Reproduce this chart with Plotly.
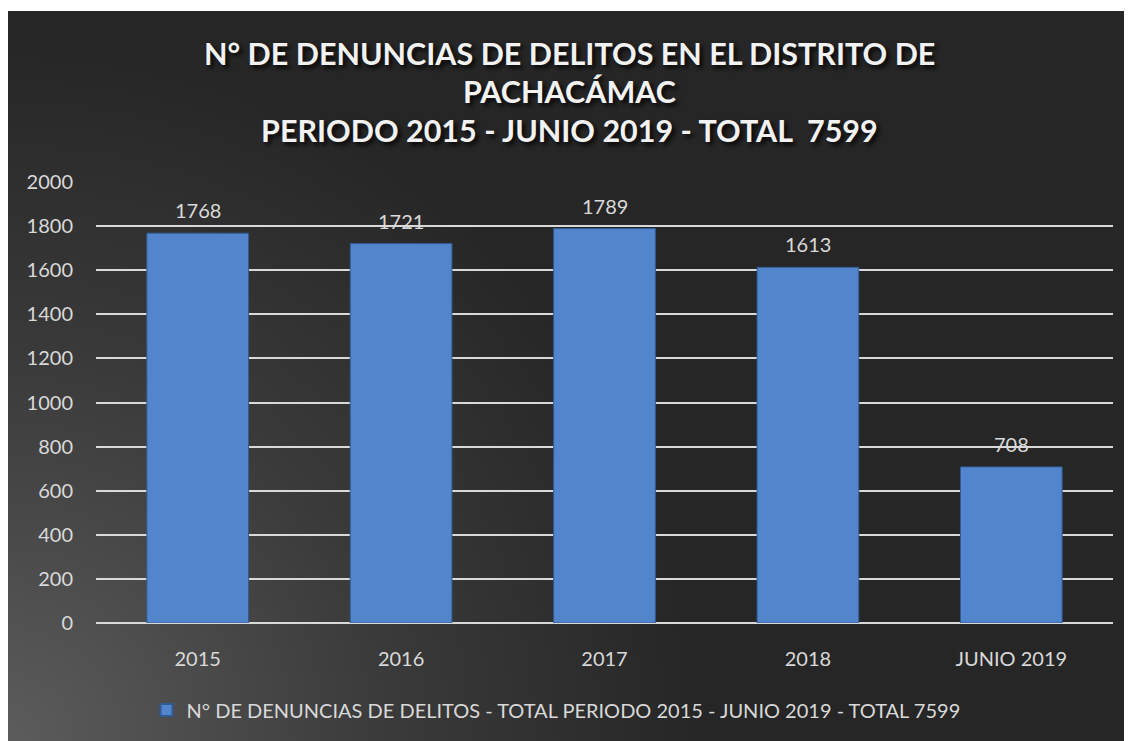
import plotly.graph_objects as go

# ---------------- data ----------------
categories = ["2015", "2016", "2017", "2018", "JUNIO 2019"]
values = [1768, 1721, 1789, 1613, 708]
series_name = "N° DE DENUNCIAS DE DELITOS - TOTAL PERIODO 2015 - JUNIO 2019 - TOTAL 7599"
title_lines = [
    "N° DE DENUNCIAS DE DELITOS EN EL DISTRITO DE",
    "PACHACÁMAC",
    "PERIODO 2015 - JUNIO 2019 - TOTAL  7599",
]
y_tick_values = [0, 200, 400, 600, 800, 1000, 1200, 1400, 1600, 1800, 2000]

# ---------------- layout constants ----------------
OFF = 8                              # page body margin in the browser
W, H = 1132 - OFF, 741 - OFF         # figure size so it fits the window
FONT = "Lato"
TXT = "#d9d9d9"
# positions below are screen pixels of the target picture
panel_x0, panel_y0 = 7, 11
plot_x0, plot_x1 = 96, 1113
plot_ytop, plot_ybot = 182, 623


def px_x(v):
    return max(0.0, (v - OFF) / W)


def px_y(v):
    return min(1.0, 1 - (v - OFF) / H)


fig = go.Figure()

# background gradient panel (radial glow from bottom-left)
fig.add_trace(go.Scatter(
    x=[-0.62, 0.62, 0.62, -0.62, -0.62],
    y=[-0.96, -0.96, 0.96, 0.96, -0.96],
    mode="lines", line=dict(width=0), fill="toself",
    fillgradient=dict(type="radial",
                      colorscale=[[0, "#5c5c5c"], [0.55, "#3a3a3a"], [1, "#262626"]]),
    hoverinfo="skip", showlegend=False, xaxis="x", yaxis="y",
))

# bars
fig.add_trace(go.Bar(
    x=categories, y=values, name=series_name,
    marker=dict(color="#5285cb", line=dict(color="#2f5b94", width=1)),
    xaxis="x2", yaxis="y2", showlegend=True,
))

annotations = []
ty = [53, 91.5, 130]
for line, yy in zip(title_lines, ty):
    annotations.append(dict(
        text=f"<b>{line}</b>", x=px_x((panel_x0 + 1132) / 2), y=px_y(yy),
        xref="paper", yref="paper", xanchor="center", yanchor="middle",
        showarrow=False,
        font=dict(family=FONT, size=30.5, color="#f2f2f2",
                  shadow="3px 3px 4px rgba(0,0,0,0.85)"),
    ))
# data labels (category index positions)
for i, v in enumerate(values):
    annotations.append(dict(
        text=str(v), x=i, y=v, xref="x2", yref="y2",
        xanchor="center", yanchor="bottom", yshift=9, showarrow=False,
        font=dict(family=FONT, size=20, color=TXT),
    ))

fig.update_layout(
    width=W, height=H,
    margin=dict(l=0, r=0, t=0, b=0, pad=0, autoexpand=False),
    paper_bgcolor="white",
    plot_bgcolor="rgba(0,0,0,0)",
    font=dict(family=FONT, size=20, color=TXT),
    bargap=0.5,
    showlegend=True,
    shapes=[dict(type="rect", xref="paper", yref="paper", layer="below",
                 x0=px_x(panel_x0), x1=1, y0=0, y1=px_y(panel_y0),
                 fillcolor="#262626", line=dict(width=0))],
    xaxis=dict(domain=[px_x(panel_x0), 1], range=[0, 1], visible=False,
               fixedrange=True, anchor="y", automargin=False),
    yaxis=dict(domain=[0, px_y(panel_y0)], range=[0, 1], visible=False,
               fixedrange=True, anchor="x", automargin=False),
    xaxis2=dict(domain=[px_x(plot_x0), px_x(plot_x1)], anchor="y2",
                type="category", range=[-0.5, len(categories) - 0.5],
                showgrid=False, showline=False, automargin=False,
                ticks="", ticklabelstandoff=22,
                tickfont=dict(family=FONT, size=20, color=TXT)),
    yaxis2=dict(domain=[px_y(plot_ybot), px_y(plot_ytop)], anchor="x2",
                range=[0, 2000], tickvals=y_tick_values, automargin=False,
                showgrid=True, gridcolor=TXT, gridwidth=1.6,
                zeroline=True, zerolinecolor=TXT, zerolinewidth=1.8,
                showline=False, ticks="", ticklabelstandoff=22,
                tickfont=dict(family=FONT, size=20, color=TXT)),
    legend=dict(orientation="h", x=px_x(556), xanchor="center",
                y=px_y(710), yanchor="middle", bgcolor="rgba(0,0,0,0)",
                font=dict(family=FONT, size=20, color=TXT),
                itemsizing="constant"),
    annotations=annotations,
)

fig.write_html("out.html")
